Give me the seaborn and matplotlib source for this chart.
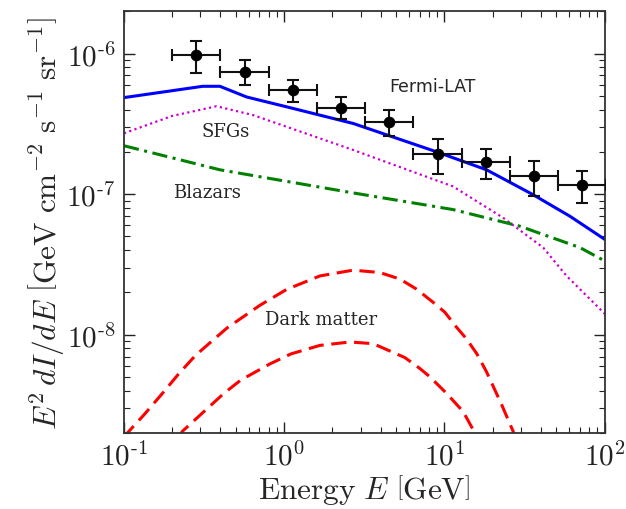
import numpy as np
import pandas as pd
import matplotlib
matplotlib.use("Agg")
import matplotlib.pyplot as plt
import seaborn as sns

# ---- data ----
fermi_E = [0.283, 0.566, 1.13, 2.26, 4.53, 9.05, 18.1, 36.2, 72.4]
fermi_lo_E = [0.2, 0.4, 0.8, 1.6, 3.2, 6.4, 12.8, 25.6, 51.2]
fermi_hi_E = [0.4, 0.8, 1.6, 3.2, 6.4, 12.8, 25.6, 51.2, 102.4]
fermi_flux = [0.97e-6, 0.743e-6, 0.554e-6, 0.410e-6, 0.327e-6, 0.193e-6, 0.169e-6, 0.134e-6, 0.117e-6]
fermi_hi = [1.22e-6, 0.903e-6, 0.652e-6, 0.489e-6, 0.398e-6, 0.248e-6, 0.211e-6, 0.171e-6, 0.147e-6]
fermi_lo = [0.726e-6, 0.594e-6, 0.456e-6, 0.340e-6, 0.259e-6, 0.140e-6, 0.128e-6, 0.0976e-6, 0.0867e-6]

total_E = [0.1, 0.31, 0.397, 0.583, 1.035, 2.70, 8.93, 18.3, 35.7, 60.6, 100]
total_flux = [0.486e-6, 0.585e-6, 0.585e-6, 0.491e-6, 0.418e-6, 0.318e-6, 0.2e-6, 0.149e-6, 0.0992e-6, 6.97e-8, 4.77e-8]

sfg_E = [0.1, 0.2, 0.378, 0.64, 2.70, 11.3, 23.2, 41.3, 57.8, 76.9, 100]
sfg_flux = [0.271e-6, 0.36e-6, 0.422e-6, 0.365e-6, 0.206e-6, 0.1135e-6, 6.8e-8, 4.17e-8, 2.62e-8, 1.9e-8, 1.41e-8]

blazar_E = [0.1, 0.397, 2.70, 11.3, 29.5, 70, 100]
blazar_flux = [0.221e-6, 0.149e-6, 0.102e-6, 7.77e-8, 5.92e-8, 4.17e-8, 3.35e-8]

dm1_E = [0.1, 0.105, 0.1332, 0.1776, 0.2204, 0.280, 0.339, 0.441, 0.7056, 1.035, 1.67,
         2.69, 3.95, 5.27, 6.70, 8.50, 10.06, 11.9, 13.7, 15.9, 18.3, 22.8, 27.1, 28.0]
dm1_flux = [1.85e-9, 2.0e-9, 2.69e-9, 3.94e-9, 5.30e-9, 7.14e-9, 8.64e-9, 1.12e-8, 1.62e-8, 2.1e-8, 2.62e-8,
            2.88e-8, 2.77e-8, 2.49e-8, 2.11e-8, 1.70e-8, 1.445e-8, 1.13e-8, 9.37e-9, 7.34e-9, 5.45e-9, 3.16e-9, 2.0e-9, 1.8e-9]

dm2_E = [0.22, 0.231, 0.3155, 0.4207, 0.5346, 0.814, 1.1, 1.67, 2.57, 3.59, 5.66, 7.03, 8.11, 10.3, 13.08, 15.1, 15.8]
dm2_flux = [1.85e-9, 2.05e-9, 2.84e-9, 3.83e-9, 4.75e-9, 6.2e-9, 7.3e-9, 8.4e-9, 8.88e-9, 8.64e-9, 6.88e-9, 5.75e-9, 5.02e-9, 3.83e-9, 2.84e-9, 2.11e-9, 1.85e-9]

labels = ["Fermi-LAT", "SFGs", "Blazars", "Dark matter"]
xtick_vals = [0.1, 1, 10, 100]
xtick_labels = [r"$10^{\text{-}1}$", r"$10^{0}$", r"$10^{1}$", r"$10^{2}$"]
ytick_vals = [1e-8, 1e-7, 1e-6]
ytick_labels = [r"$10^{\text{-}8}$", r"$10^{\text{-}7}$", r"$10^{\text{-}6}$"]

# ---- style ----
sns.set_style("ticks")
plt.rcParams.update({
    "font.family": ["DejaVu Serif"],
    "mathtext.fontset": "cm",
    "axes.edgecolor": "#333333",
    "axes.linewidth": 1.3,
    "xtick.direction": "in",
    "ytick.direction": "in",
    "xtick.top": True,
    "ytick.right": True,
    "xtick.major.size": 8,
    "ytick.major.size": 8,
    "xtick.minor.size": 4,
    "ytick.minor.size": 4,
    "xtick.major.width": 1.0,
    "ytick.major.width": 1.0,
    "xtick.minor.width": 0.8,
    "ytick.minor.width": 0.8,
    "xtick.color": "#222222",
    "ytick.color": "#222222",
})

fig = plt.figure(figsize=(6.26, 5.10), dpi=100)
ax = fig.add_axes([0.198, 0.149, 0.768, 0.827])

lw = 2.2
sns.lineplot(x=total_E, y=total_flux, ax=ax, color="#0000ff", lw=lw, sort=False)
sns.lineplot(x=sfg_E, y=sfg_flux, ax=ax, color="#cc00cc", lw=1.6, sort=False)
ax.lines[-1].set_linestyle((0, (1, 1.5)))
sns.lineplot(x=blazar_E, y=blazar_flux, ax=ax, color="#008000", lw=lw, sort=False)
ax.lines[-1].set_linestyle((0, (5, 1.8, 1, 1.8)))
sns.lineplot(x=dm1_E, y=dm1_flux, ax=ax, color="#ff0000", lw=lw, sort=False)
ax.lines[-1].set_linestyle((0, (5, 2.5)))
sns.lineplot(x=dm2_E, y=dm2_flux, ax=ax, color="#ff0000", lw=lw, sort=False)
ax.lines[-1].set_linestyle((0, (5, 2.5)))

fE = np.array(fermi_E)
fF = np.array(fermi_flux)
xerr = [fE - np.array(fermi_lo_E), np.array(fermi_hi_E) - fE]
yerr = [fF - np.array(fermi_lo), np.array(fermi_hi) - fF]
ax.errorbar(fE, fF, xerr=xerr, yerr=yerr, fmt="none", ecolor="#111111",
            elinewidth=1.5, capsize=4, capthick=1.5, zorder=4)
sns.scatterplot(x=fermi_E, y=fermi_flux, ax=ax, color="black", s=60,
                edgecolor="black", zorder=5)

ax.set_xscale("log")
ax.set_yscale("log")
ax.set_xlim(0.1, 100)
ax.set_ylim(2e-9, 2e-6)

ax.text(8.46, 0.585e-6, labels[0], ha="center", va="center", fontsize=12.5,
        family="DejaVu Sans")
ax.text(0.433, 0.281e-6, labels[1], ha="center", va="center", fontsize=13)
ax.text(0.33, 1.03e-7, labels[2], ha="center", va="center", fontsize=13)
ax.text(1.69, 1.30e-8, labels[3], ha="center", va="center", fontsize=13)

ax.tick_params(axis="both", which="major", labelsize=21, pad=6)
ax.set_xticks(xtick_vals)
ax.set_xticklabels(xtick_labels)
ax.set_yticks(ytick_vals)
ax.set_yticklabels(ytick_labels)

ax.set_xlabel(r"$\mathrm{Energy}\ E\ \left[\mathrm{GeV}\right]$", fontsize=22.5, labelpad=1)
ax.set_ylabel(r"$E^2\,dI/dE\ \left[\mathrm{GeV\ cm^{-2}\ s^{-1}\ sr^{-1}}\right]$",
              fontsize=22.5, labelpad=0)

fig.savefig("out.png", dpi=100)
